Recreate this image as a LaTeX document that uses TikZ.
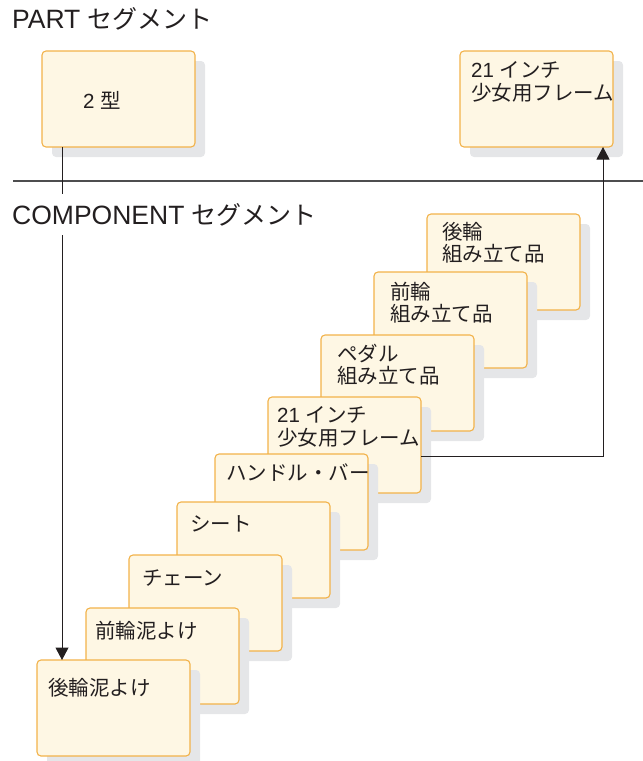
\documentclass[tikz,border=0pt]{standalone}
\usepackage{fontspec}
\setmainfont{Liberation Sans}
\newfontfamily\jp{Noto Sans CJK JP}
\usetikzlibrary{arrows.meta,calc}
\definecolor{boxfill}{HTML}{FEF7E4}
\definecolor{boxline}{HTML}{F2B24A}
\definecolor{shade}{HTML}{E5E6E8}
\definecolor{ink}{HTML}{231F20}
\definecolor{rule}{HTML}{4D4D4F}
\newcommand\compbox[3]{%
  \node[shadowbox] (#1s) at (#2+10,#3+10) {};
  \node[box] (#1) at (#2,#3) {};}
\begin{document}
\begin{tikzpicture}[x=1pt,y=-1pt,
  box/.style={draw=boxline, fill=boxfill, line width=1.1pt, rounded corners=4pt,
    minimum width=153pt, minimum height=96pt, anchor=north west, inner sep=0pt, outer sep=0pt},
  shadowbox/.style={fill=shade, rounded corners=4pt, minimum width=153pt,
    minimum height=96pt, anchor=north west, inner sep=0pt, outer sep=0pt},
  btxt/.style={anchor=base west, inner sep=0pt, text=ink, font=\fontsize{20.5}{22}\selectfont},
  head/.style={anchor=base west, inner xsep=2pt, inner ysep=9pt, text=ink, fill=white,
    font=\fontsize{26.5}{30}\selectfont},
  arr/.style={draw=ink, line width=1pt, -{Triangle[length=12.5pt,width=13pt]}},
  sep/.style={draw=rule, line width=1.2pt}
]
\useasboundingbox (0,0) rectangle (643,761);

% PART segment boxes
\compbox{p2}{42}{51}
\node[btxt] (p2t) at ($(p2.north west)+(41,57)$) {2\ {\jp 型}};
\compbox{tf}{460}{51}
\node[btxt] (tft1) at ($(tf.north west)+(11,26)$) {21\ {\jp インチ}};
\node[btxt] (tft2) at ($(tf.north west)+(11,49)$) {\jp 少女用フレーム};

% separator
\coordinate (sepL) at (13,181);
\coordinate (sepR) at (643,181);
\draw[sep] (sepL) -- (sepR);

% COMPONENT segment boxes
\compbox{rw}{427}{214}
\node[btxt] (rwt1) at ($(rw.north west)+(15,25)$) {\jp 後輪};
\node[btxt] (rwt2) at ($(rw.north west)+(15,47)$) {\jp 組み立て品};
\compbox{fw}{374}{272}
\node[btxt] (fwt1) at ($(fw.north west)+(16,27)$) {\jp 前輪};
\node[btxt] (fwt2) at ($(fw.north west)+(16,49)$) {\jp 組み立て品};
\compbox{pd}{321}{335}
\node[btxt] (pdt1) at ($(pd.north west)+(16,26)$) {\jp ペダル};
\node[btxt] (pdt2) at ($(pd.north west)+(16,48.5)$) {\jp 組み立て品};
\compbox{fc}{268}{397}
\node[btxt] (fct1) at ($(fc.north west)+(9,25)$) {21\ {\jp インチ}};
\node[btxt] (fct2) at ($(fc.north west)+(9,48)$) {\jp 少女用フレーム};
\compbox{hb}{215}{454}
\node[btxt] (hbt) at ($(hb.north west)+(11,26)$) {\jp ハンドル・バー};
\compbox{st}{177}{502}
\node[btxt] (stt) at ($(st.north west)+(13,29.5)$) {\jp シート};
\compbox{ch}{129}{555}
\node[btxt] (cht) at ($(ch.north west)+(13,30)$) {\jp チェーン};
\compbox{ff}{86}{608}
\node[btxt] (fft) at ($(ff.north west)+(9,30.5)$) {\jp 前輪泥よけ};
\compbox{rf}{37}{660}
\node[btxt] (rft) at ($(rf.north west)+(11,35)$) {\jp 後輪泥よけ};

% connectors
\draw[arr] ([xshift=20pt]p2.south west) -- ([xshift=25pt]rf.north west);
\draw[arr] ([yshift=-11pt]fc.east) -| ([xshift=-10pt]tf.south east);

% headings
\node[head] (hpart) at (10,28) {PART\ {\jp\fontsize{25}{28}\selectfont セグメント}};
\node[head] (hcomp) at (10,224) {COMPONENT\ {\jp\fontsize{25}{28}\selectfont セグメント}};
\end{tikzpicture}
\end{document}
